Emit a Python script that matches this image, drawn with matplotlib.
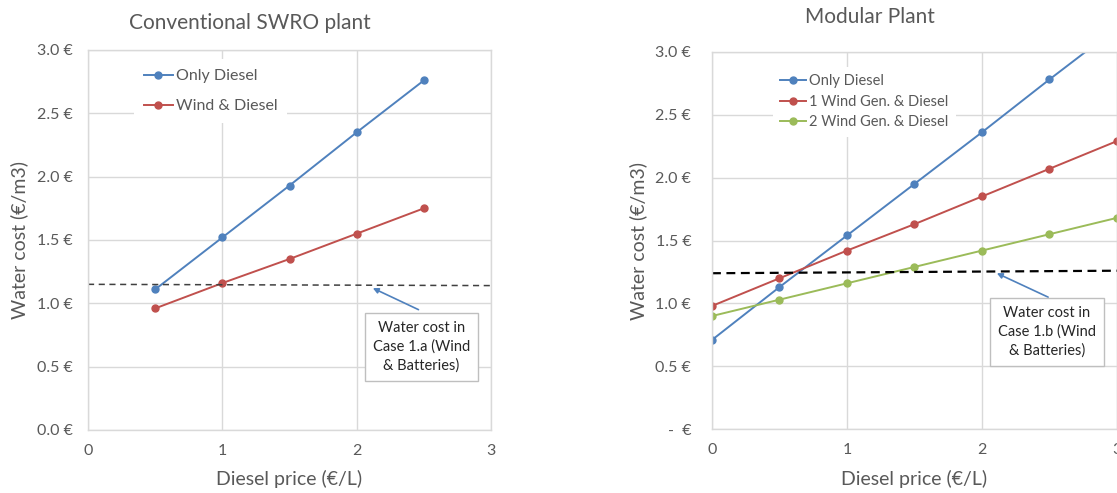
import matplotlib
matplotlib.use("Agg")
import matplotlib.pyplot as plt

plt.rcParams["font.family"] = ["Lato", "DejaVu Sans"]

# Conventional SWRO plant
conv_price = [0.5, 1.0, 1.5, 2.0, 2.5]
conv_only_diesel = [1.11, 1.52, 1.93, 2.35, 2.76]
conv_wind_diesel = [0.96, 1.16, 1.35, 1.55, 1.75]
conv_ref_x = [0, 3]
conv_ref_y = [1.15, 1.14]

# Modular plant
mod_price = [0, 0.5, 1.0, 1.5, 2.0, 2.5, 3.0]
mod_only_diesel = [0.71, 1.13, 1.54, 1.95, 2.36, 2.78, 3.19]
mod_1wind = [0.98, 1.20, 1.42, 1.63, 1.85, 2.07, 2.29]
mod_2wind = [0.90, 1.03, 1.16, 1.29, 1.42, 1.55, 1.68]
mod_ref_x = [0, 3]
mod_ref_y = [1.24, 1.26]

yticks = [0, 0.5, 1.0, 1.5, 2.0, 2.5, 3.0]
conv_ylabels = ["0.0 €", "0.5 €", "1.0 €", "1.5 €", "2.0 €", "2.5 €", "3.0 €"]
mod_ylabels = ["-  €", "0.5 €", "1.0 €", "1.5 €", "2.0 €", "2.5 €", "3.0 €"]
xticks = [0, 1, 2, 3]

BLUE = "#4F81BD"
RED = "#C0504D"
GREEN = "#9BBB59"
GRID = "#D9D9D9"
TXT = "#595959"

fig = plt.figure(figsize=(11.17, 4.93), dpi=100)
ax1 = fig.add_axes([0.0788, 0.1278, 0.3608, 0.7708])
ax2 = fig.add_axes([0.6374, 0.1292, 0.3626, 0.7659])


def style(ax, ylabels, ypad):
    ax.set_xlim(0, 3)
    ax.set_ylim(0, 3)
    ax.set_xticks(xticks)
    ax.set_yticks(yticks)
    ax.set_yticklabels(ylabels)
    ax.grid(True, color=GRID, lw=1.0)
    ax.set_axisbelow(True)
    for s in ax.spines.values():
        s.set_color(GRID)
        s.set_linewidth(1.0)
    ax.tick_params(axis="both", length=0, colors=TXT, labelsize=11.5)
    ax.tick_params(axis="x", pad=10)
    ax.tick_params(axis="y", pad=ypad)
    ax.set_xlabel("Diesel price (€/L)", fontsize=14, color=TXT, labelpad=9)
    ax.set_ylabel("Water cost (€/m3)", fontsize=14, color=TXT, labelpad=6)


mk = dict(marker="o", markersize=5, lw=1.4)

# left chart
ax1.plot(conv_price, conv_only_diesel, color=BLUE, label="Only Diesel", **mk)
ax1.plot(conv_price, conv_wind_diesel, color=RED, label="Wind & Diesel", **mk)
ax1.plot(conv_ref_x, conv_ref_y, color="#404040", lw=1.1, ls=(0, (4, 3)))
style(ax1, conv_ylabels, 11)
ax1.legend(loc="upper left", bbox_to_anchor=(0.115, 0.975), frameon=True,
           facecolor="white", edgecolor="none", framealpha=1,
           fontsize=11.5, handlelength=1.8, handletextpad=0.2,
           labelspacing=1.0, borderpad=0.6, borderaxespad=0,
           fancybox=False, labelcolor=TXT)
ax1.annotate("", xy=(2.12, 1.12), xytext=(2.46, 0.95),
             arrowprops=dict(arrowstyle="-|>", color=BLUE, lw=1.2,
                             mutation_scale=8, shrinkA=0, shrinkB=0))
ax1.text(2.48, 0.655, "Water cost in\nCase 1.a (Wind\n& Batteries)",
         ha="center", va="center", fontsize=10.5, color="#262626",
         linespacing=1.4,
         bbox=dict(boxstyle="square,pad=0.55", fc="white", ec="#BFBFBF", lw=1))

# right chart
ax2.plot(mod_price, mod_only_diesel, color=BLUE, label="Only Diesel", **mk)
ax2.plot(mod_price, mod_1wind, color=RED, label="1 Wind Gen. & Diesel", **mk)
ax2.plot(mod_price, mod_2wind, color=GREEN, label="2 Wind Gen. & Diesel", **mk)
ax2.plot(mod_ref_x, mod_ref_y, color="black", lw=1.6, ls=(0, (4, 2.5)))
style(ax2, mod_ylabels, 15)
ax2.legend(loc="upper left", bbox_to_anchor=(0.15, 0.96), frameon=True,
           facecolor="white", edgecolor="none", framealpha=1,
           fontsize=10.5, handlelength=1.8, handletextpad=0.2,
           labelspacing=0.45, borderpad=0.5, borderaxespad=0,
           fancybox=False, labelcolor=TXT)
ax2.annotate("", xy=(2.11, 1.24), xytext=(2.49, 1.05),
             arrowprops=dict(arrowstyle="-|>", color=BLUE, lw=1.2,
                             mutation_scale=8, shrinkA=0, shrinkB=0))
ax2.text(2.48, 0.775, "Water cost in\nCase 1.b (Wind\n& Batteries)",
         ha="center", va="center", fontsize=10.5, color="#262626",
         linespacing=1.4,
         bbox=dict(boxstyle="square,pad=0.55", fc="white", ec="#BFBFBF", lw=1))

fig.text(250 / 1117, 1 - 23 / 493, "Conventional SWRO plant", ha="center",
         va="center", fontsize=15, color=TXT)
fig.text(870 / 1117, 1 - 17 / 493, "Modular Plant", ha="center",
         va="center", fontsize=15, color=TXT)

fig.savefig("out.png", dpi=100, facecolor="white")
